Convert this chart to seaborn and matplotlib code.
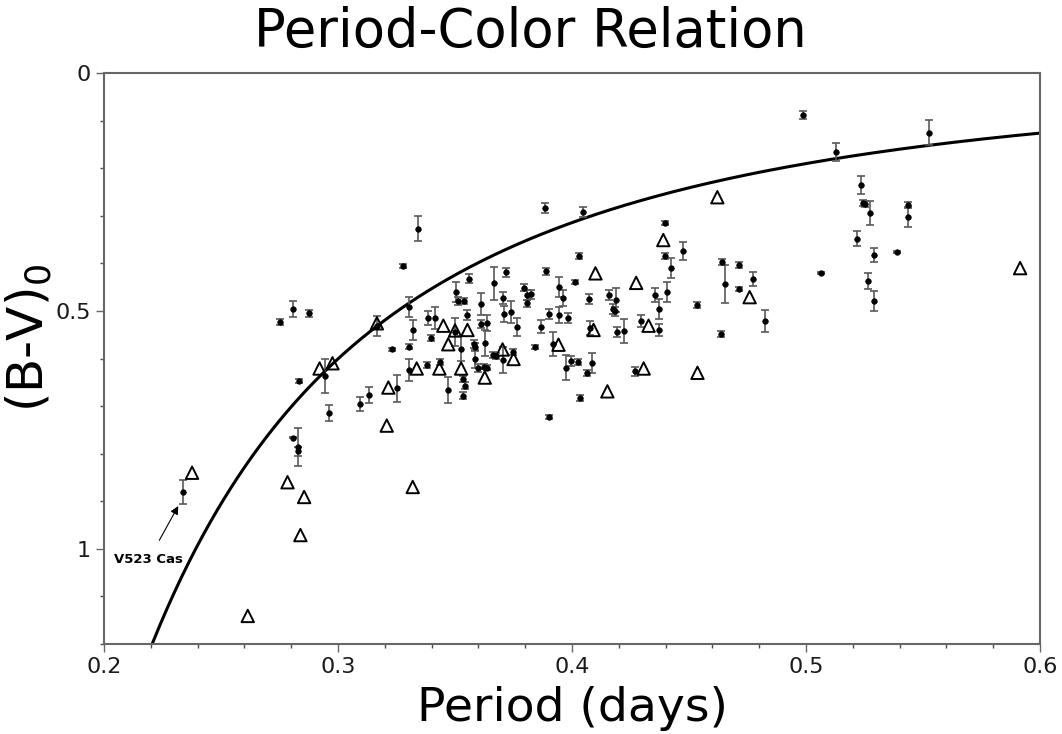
import numpy as np
import pandas as pd
import matplotlib
matplotlib.use('Agg')
import matplotlib.pyplot as plt
from matplotlib.ticker import MultipleLocator, FuncFormatter
import seaborn as sns

# measured systems with error bars (period in days, (B-V)0, error)
period = [0.2338, 0.2751, 0.2809, 0.2877, 0.2835, 0.2943, 0.2960, 0.2807, 0.2829, 0.2829,
          0.3094, 0.3134, 0.3166, 0.3231, 0.3251, 0.3277, 0.3305, 0.3320, 0.3305, 0.3305,
          0.3342, 0.3380, 0.3385, 0.3399, 0.3416, 0.3434, 0.3468, 0.3499, 0.3505, 0.3512,
          0.3538, 0.3559, 0.3525, 0.3536, 0.3542, 0.3534, 0.3553, 0.3583, 0.3586, 0.3585,
          0.3599, 0.3625, 0.3636, 0.3612, 0.3609, 0.3635, 0.3628, 0.3665, 0.3719, 0.3703,
          0.3709, 0.3740, 0.3764, 0.3661, 0.3673, 0.3703, 0.3747, 0.3796, 0.3808, 0.3824,
          0.3807, 0.3843, 0.3867, 0.3885, 0.3890, 0.3901, 0.3918, 0.3902, 0.3943, 0.3962,
          0.3946, 0.3981, 0.3975, 0.3997, 0.4024, 0.4028, 0.4014, 0.4048, 0.4035, 0.4072,
          0.4076, 0.4086, 0.4064, 0.4157, 0.4189, 0.4175, 0.4183, 0.4194, 0.4224, 0.4267,
          0.4294, 0.4356, 0.4371, 0.4372, 0.4396, 0.4398, 0.4423, 0.4406, 0.4474, 0.4535,
          0.4636, 0.4640, 0.4653, 0.4714, 0.4714, 0.4775, 0.4825, 0.4989, 0.5063, 0.5128,
          0.5234, 0.5245, 0.5250, 0.5273, 0.5219, 0.5292, 0.5265, 0.5289, 0.5389, 0.5436,
          0.5436, 0.5525]
bv = [0.881, 0.523, 0.496, 0.505, 0.647, 0.637, 0.715, 0.766, 0.786, 0.795,
      0.695, 0.676, 0.532, 0.581, 0.663, 0.405, 0.491, 0.540, 0.575, 0.624,
      0.327, 0.613, 0.515, 0.557, 0.514, 0.607, 0.666, 0.544, 0.461, 0.479,
      0.479, 0.432, 0.579, 0.643, 0.657, 0.678, 0.509, 0.570, 0.575, 0.602,
      0.620, 0.617, 0.619, 0.486, 0.527, 0.525, 0.568, 0.442, 0.419, 0.473,
      0.506, 0.502, 0.533, 0.593, 0.595, 0.603, 0.586, 0.451, 0.466, 0.465,
      0.484, 0.576, 0.533, 0.284, 0.417, 0.506, 0.569, 0.723, 0.449, 0.472,
      0.509, 0.515, 0.619, 0.605, 0.607, 0.384, 0.440, 0.292, 0.683, 0.475,
      0.536, 0.609, 0.631, 0.467, 0.477, 0.496, 0.501, 0.544, 0.542, 0.627,
      0.521, 0.467, 0.495, 0.540, 0.316, 0.385, 0.409, 0.461, 0.374, 0.487,
      0.549, 0.397, 0.444, 0.403, 0.454, 0.433, 0.522, 0.088, 0.421, 0.165,
      0.236, 0.273, 0.275, 0.294, 0.348, 0.382, 0.437, 0.480, 0.377, 0.277,
      0.303, 0.125]
bv_err = [0.025, 0.006, 0.017, 0.008, 0.004, 0.036, 0.017, 0.002, 0.040, 0.010,
          0.015, 0.017, 0.021, 0.004, 0.029, 0.004, 0.021, 0.021, 0.005, 0.023,
          0.027, 0.006, 0.015, 0.006, 0.023, 0.006, 0.027, 0.029, 0.021, 0.008,
          0.006, 0.010, 0.027, 0.006, 0.008, 0.008, 0.010, 0.008, 0.008, 0.017,
          0.008, 0.006, 0.006, 0.023, 0.008, 0.017, 0.027, 0.034, 0.010, 0.013,
          0.017, 0.023, 0.019, 0.006, 0.006, 0.027, 0.006, 0.008, 0.010, 0.010,
          0.008, 0.004, 0.013, 0.010, 0.008, 0.010, 0.025, 0.004, 0.021, 0.017,
          0.017, 0.010, 0.027, 0.010, 0.006, 0.006, 0.004, 0.010, 0.006, 0.010,
          0.015, 0.021, 0.006, 0.010, 0.025, 0.010, 0.010, 0.010, 0.025, 0.010,
          0.013, 0.015, 0.021, 0.013, 0.004, 0.006, 0.021, 0.021, 0.019, 0.006,
          0.006, 0.006, 0.040, 0.006, 0.004, 0.015, 0.023, 0.008, 0.002, 0.019,
          0.019, 0.006, 0.006, 0.025, 0.015, 0.015, 0.017, 0.021, 0.002, 0.006,
          0.021, 0.027]

# literature systems (open triangles)
period_lit = [0.2376, 0.2614, 0.2784, 0.2855, 0.2839, 0.2921, 0.2976, 0.3166, 0.3215, 0.3208,
              0.3319, 0.3336, 0.3433, 0.3450, 0.3471, 0.3500, 0.3526, 0.3553, 0.3627, 0.3703,
              0.3750, 0.3942, 0.4092, 0.4100, 0.4151, 0.4274, 0.4306, 0.4327, 0.4390, 0.4536,
              0.4621, 0.4759, 0.5915]
bv_lit = [0.840, 1.141, 0.860, 0.891, 0.971, 0.621, 0.610, 0.526, 0.661, 0.741,
          0.870, 0.621, 0.621, 0.531, 0.570, 0.541, 0.621, 0.540, 0.640, 0.581,
          0.601, 0.571, 0.540, 0.421, 0.669, 0.441, 0.621, 0.531, 0.351, 0.630,
          0.261, 0.471, 0.410]

# blue envelope (B-V)0 = A * P^B
env_a = 0.04
env_b = -2.25

df = pd.DataFrame({'period': period, 'bv': bv, 'err': bv_err})
df_lit = pd.DataFrame({'period': period_lit, 'bv': bv_lit})
p_line = np.linspace(0.2, 0.6, 400)
df_line = pd.DataFrame({'period': p_line, 'bv': env_a * p_line ** env_b})

sns.set_style('ticks')
plt.rcParams['font.family'] = ['DejaVu Sans']

fig = plt.figure(figsize=(10.62, 7.34), dpi=100)
ax = fig.add_axes([0.098, 0.1226, 0.8813, 0.7779])

sns.lineplot(data=df_line, x='period', y='bv', ax=ax, color='black', linewidth=2.2, zorder=2)
ax.errorbar(df['period'], df['bv'], yerr=df['err'], fmt='none', ecolor='0.35',
            elinewidth=1.2, capsize=3, capthick=1.2, zorder=3)
sns.scatterplot(data=df, x='period', y='bv', ax=ax, color='black', s=16,
                edgecolor='black', linewidth=0.5, zorder=4)
sns.scatterplot(data=df_lit, x='period', y='bv', ax=ax, marker='^', s=80,
                facecolor='none', edgecolor='black', linewidth=1.4, zorder=4)

ax.annotate('V523 Cas', xy=(0.2317, 0.910), xytext=(0.2190, 1.023),
            fontsize=9.5, fontweight='bold', ha='center', va='center', color='black',
            arrowprops=dict(arrowstyle='-|>', color='black', lw=0.8,
                            shrinkA=8, shrinkB=0, mutation_scale=12))

ax.set_xlim(0.2, 0.6)
ax.set_ylim(1.2, 0)
ax.xaxis.set_major_locator(MultipleLocator(0.1))
ax.xaxis.set_minor_locator(MultipleLocator(0.02))
ax.yaxis.set_major_locator(MultipleLocator(0.5))
ax.yaxis.set_minor_locator(MultipleLocator(0.1))
ax.xaxis.set_major_formatter(FuncFormatter(lambda v, p: '%g' % round(v, 2)))
ax.yaxis.set_major_formatter(FuncFormatter(lambda v, p: '%g' % round(v, 2)))
ax.tick_params(which='major', length=6, width=1, color='0.4', labelsize=16, labelcolor='#1a1a1a')
ax.tick_params(which='minor', length=3, width=1, color='0.3')
for s in ax.spines.values():
    s.set_color('0.4')
    s.set_linewidth(1.5)
    s.set_visible(True)

# title sits centred on the figure, not the axes
ax.set_title('Period-Color Relation', fontsize=38, pad=19, color='black', x=0.456)
ax.set_xlabel('Period (days)', fontsize=34, labelpad=6, color='black')
ax.set_ylabel('(B-V)$_0$', fontsize=36, color='black')
ax.yaxis.set_label_coords(-0.053, 0.535)

fig.savefig('out.png', dpi=100)
